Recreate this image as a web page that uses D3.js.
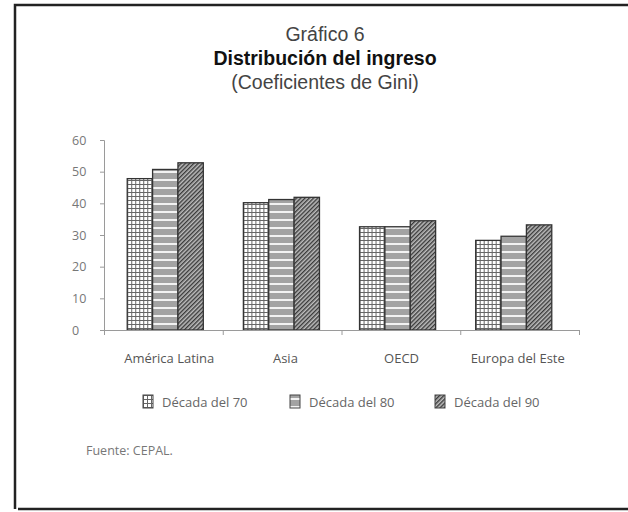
<!DOCTYPE html>
<html>
<head>
<meta charset="utf-8">
<script src="https://cdn.jsdelivr.net/npm/d3@7"></script>
<style>
  body { margin: 0; background: #fff; }
  text { font-family: "Open Sans", "Noto Sans", sans-serif; }
  .title { font-family: "Liberation Sans", Arial, sans-serif; }
</style>
</head>
<body>
<div id="chart"></div>
<script>
var regions = ['América Latina', 'Asia', 'OECD', 'Europa del Este']
var decades = ['Década del 70', 'Década del 80', 'Década del 90']
var gini70 = [47.8, 40.2, 32.6, 28.3]
var gini80 = [50.7, 41.2, 32.6, 29.6]
var gini90 = [52.8, 41.9, 34.5, 33.2]
var yTicks = [0, 10, 20, 30, 40, 50, 60]

var series = [gini70, gini80, gini90]
var W = 628, H = 512

var svg = d3.select('#chart').append('svg')
    .attr('width', W)
    .attr('height', H)

// fill patterns, one per decade
var defs = svg.append('defs')
var p70 = defs.append('pattern')
    .attr('id', 'pat0').attr('patternUnits', 'userSpaceOnUse')
    .attr('width', 4).attr('height', 4)
p70.append('rect').attr('width', 4).attr('height', 4).attr('fill', '#fff')
p70.append('path').attr('d', 'M0.5 0 V4 M0 0.5 H4')
    .attr('stroke', '#666').attr('stroke-width', 1)

var p80 = defs.append('pattern')
    .attr('id', 'pat1').attr('patternUnits', 'userSpaceOnUse')
    .attr('width', 8).attr('height', 8)
p80.append('rect').attr('width', 8).attr('height', 8).attr('fill', '#a3a3a3')
p80.append('rect').attr('y', 3).attr('width', 8).attr('height', 2).attr('fill', '#f2f2f2')

var p90 = defs.append('pattern')
    .attr('id', 'pat2').attr('patternUnits', 'userSpaceOnUse')
    .attr('width', 3).attr('height', 3)
    .attr('patternTransform', 'rotate(45)')
p90.append('rect').attr('width', 3).attr('height', 3).attr('fill', '#bdbdbd')
p90.append('rect').attr('width', 1.4).attr('height', 3).attr('fill', '#3a3a3a')

// frame
svg.append('path')
    .attr('d', 'M628 5 H15 V509 M18 509 H628')
    .attr('fill', 'none')
    .attr('stroke', '#222')
    .attr('stroke-width', 2.5)

// titles
var tx = 325
svg.append('text').attr('class', 'title').attr('x', tx).attr('y', 41).attr('text-anchor', 'middle')
    .attr('font-size', 19.5).attr('fill', '#444')
    .text('Gráfico 6')
svg.append('text').attr('class', 'title').attr('x', tx).attr('y', 65).attr('text-anchor', 'middle')
    .attr('font-size', 19.5).attr('font-weight', 'bold').attr('fill', '#111')
    .text('Distribución del ingreso')
svg.append('text').attr('class', 'title').attr('x', tx).attr('y', 89).attr('text-anchor', 'middle')
    .attr('font-size', 19.5).attr('fill', '#444')
    .text('(Coeficientes de Gini)')

// scales
var x0 = d3.scaleBand().domain(regions).range([104, 575])
    .paddingInner(0.345).paddingOuter(0.2)
var x1 = d3.scaleBand().domain(d3.range(decades.length))
    .range([0, x0.bandwidth()])
var y = d3.scaleLinear().domain([0, 60]).range([330, 140])
var xTick = d3.scaleLinear().domain([0, regions.length]).range([104, 579])

var axisColor = '#9a9a9a'

// bars
var groups = svg.append('g').selectAll('g')
    .data(regions)
    .join('g')
    .attr('transform', function(d) { return 'translate(' + x0(d) + ',0)' })

groups.selectAll('rect')
    .data(function(d, i) { return series.map(function(s, k) { return { k: k, v: s[i] } }) })
    .join('rect')
    .attr('x', function(d) { return x1(d.k) })
    .attr('y', function(d) { return y(d.v) })
    .attr('width', x1.bandwidth())
    .attr('height', function(d) { return y(0) - y(d.v) })
    .attr('fill', function(d) { return 'url(#pat' + d.k + ')' })
    .attr('stroke', '#333')
    .attr('stroke-width', 1.3)

// y axis
var yAxis = svg.append('g')
    .attr('transform', 'translate(104,0)')
    .call(d3.axisLeft(y).tickValues(yTicks).tickSize(4).tickFormat(d3.format('d')))
yAxis.select('.domain').attr('stroke', axisColor)
yAxis.selectAll('.tick line').attr('stroke', axisColor)
yAxis.selectAll('.tick text')
    .attr('x', -32).attr('text-anchor', 'start')
    .attr('font-size', 12.5).attr('fill', '#777')
    .style('font-family', '"Open Sans", sans-serif')

// x axis: category ticks sit between the groups
var xAxis = svg.append('g')
    .attr('transform', 'translate(0,330)')
    .call(d3.axisBottom(xTick).tickValues(d3.range(regions.length + 1)).tickSize(5).tickFormat(''))
xAxis.select('.domain').attr('stroke', axisColor)
xAxis.selectAll('.tick line').attr('stroke', axisColor)

svg.append('g').selectAll('text')
    .data(regions)
    .join('text')
    .attr('x', function(d) { return x0(d) + x0.bandwidth() / 2 + 4 })
    .attr('y', 363)
    .attr('text-anchor', 'middle')
    .attr('font-size', 13)
    .attr('fill', '#555')
    .text(function(d) { return d })

// legend
var legX = [143, 290, 435]
var leg = svg.append('g').selectAll('g')
    .data(decades)
    .join('g')
    .attr('transform', function(d, i) { return 'translate(' + legX[i] + ',395)' })
leg.append('rect')
    .attr('width', 10).attr('height', 13)
    .attr('fill', function(d, i) { return 'url(#pat' + i + ')' })
    .attr('stroke', '#444').attr('stroke-width', 1)
leg.append('text')
    .attr('x', 19).attr('y', 11.5)
    .attr('font-size', 13).attr('fill', '#666')
    .text(function(d) { return d })

// source
svg.append('text').attr('x', 86).attr('y', 455)
    .attr('font-size', 12.5).attr('fill', '#777')
    .text('Fuente:  CEPAL.')
</script>
</body>
</html>
